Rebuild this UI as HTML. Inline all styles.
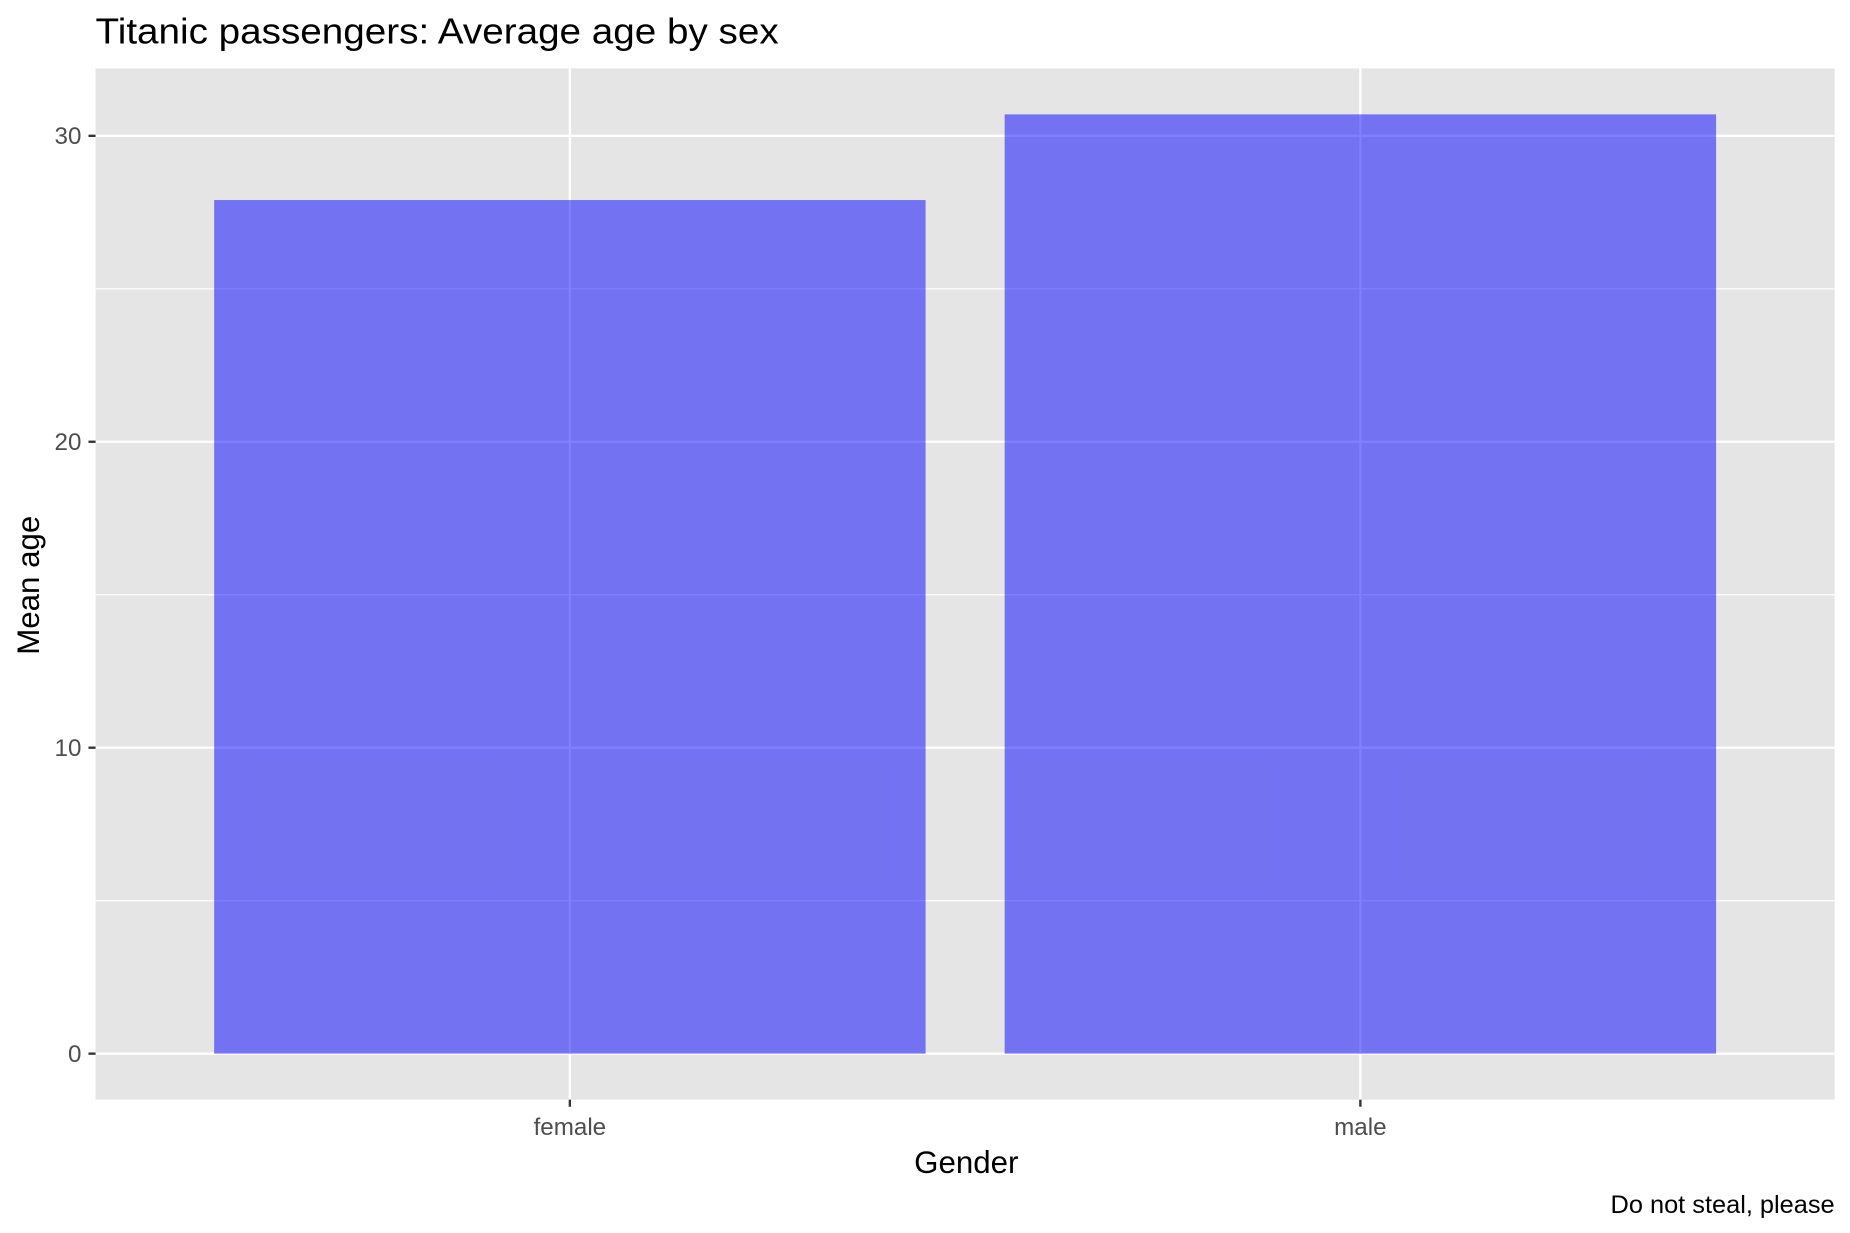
<!DOCTYPE html>
<html><head><meta charset="utf-8"><style>
html,body{margin:0;padding:0;background:#fff;}
svg{display:block;font-family:"Liberation Sans",Arial,sans-serif;}
</style></head><body>
<svg id="chart" width="1850" height="1233" viewBox="0 0 1568 1045" preserveAspectRatio="none" xmlns="http://www.w3.org/2000/svg">
<rect width="1568" height="1045" fill="#fff"/>
<text x="81" y="37" font-size="31" textLength="579" lengthAdjust="spacingAndGlyphs" fill="#000">Titanic passengers: Average age by sex</text>
<rect x="81" y="58" width="1474" height="874" fill="#e5e5e5"/>
<g id="grid"></g>
<g id="bars"></g>
<g id="axes"></g>
<text x="819" y="994" font-size="26.5" text-anchor="middle" fill="#000">Gender</text>
<text transform="translate(33,496) rotate(-90)" font-size="26.5" text-anchor="middle" fill="#000">Mean age</text>
<text x="1555" y="1028" font-size="21.5" text-anchor="end" fill="#000">Do not steal, please</text>
</svg>
<script>
const categories = ["female", "male"];
const meanAge = [27.9, 30.7];
const yTicks = [0, 10, 20, 30];
const yMinor = [5, 15, 25];

const NS = "http://www.w3.org/2000/svg";
const y = v => 893 - v * 25.93;
const x = i => 483 + i * 670;
const barHalf = 301.5;
function mk(tag, attrs, parent) {
  const e = document.createElementNS(NS, tag);
  for (const k in attrs) e.setAttribute(k, attrs[k]);
  parent.appendChild(e);
  return e;
}
const grid = document.getElementById('grid');
const bars = document.getElementById('bars');
const axes = document.getElementById('axes');
yMinor.forEach(v => {
  const l = mk('line', {x1: 81, x2: 1555, y1: y(v), y2: y(v), stroke: '#fff', 'stroke-width': 1}, grid);
  
  
});
yTicks.forEach(v => {
  const l = mk('line', {x1: 81, x2: 1555, y1: y(v), y2: y(v), stroke: '#fff', 'stroke-width': 2}, grid);
  
  
  const t = mk('line', {x1: 75, x2: 81, y1: y(v), y2: y(v), stroke: '#333', 'stroke-width': 2}, axes);
  
  
  const tx = mk('text', {x: 69, y: y(v) + 7, 'font-size': 20.5, 'text-anchor': 'end', fill: '#4d4d4d'}, axes);
  tx.textContent = v;
  
  
});
categories.forEach((c, i) => {
  const l = mk('line', {x1: x(i), x2: x(i), y1: 58, y2: 932, stroke: '#fff', 'stroke-width': 2}, grid);
  
  
  const b = mk('rect', {x: x(i) - barHalf, y: y(meanAge[i]), width: barHalf * 2, height: y(0) - y(meanAge[i]), fill: '#0000ff', 'fill-opacity': 0.5}, bars);
  
  
  const t = mk('line', {x1: x(i), x2: x(i), y1: 932, y2: 938, stroke: '#333', 'stroke-width': 2}, axes);
  
  
  const tx = mk('text', {x: x(i), y: 962, 'font-size': 20.5, 'text-anchor': 'middle', fill: '#4d4d4d'}, axes);
  tx.textContent = c;
  
  
});
</script>
</body></html>
